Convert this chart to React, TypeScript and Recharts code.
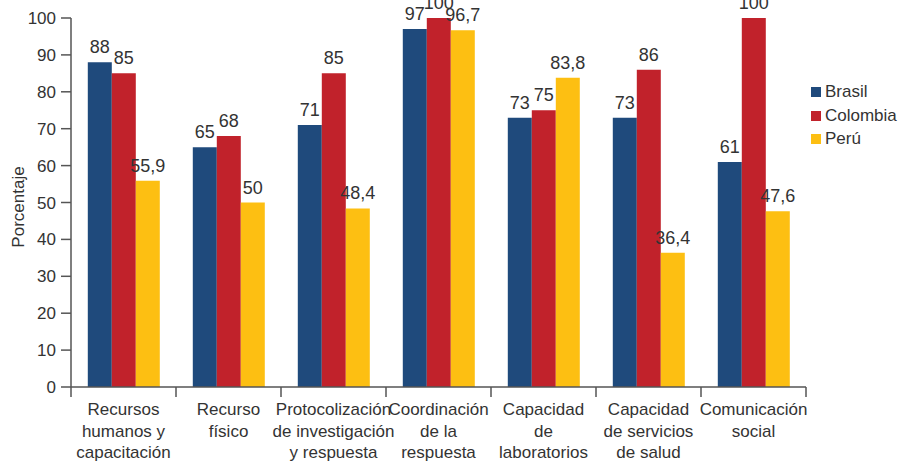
import React from "react"
import { BarChart, Bar, XAxis, YAxis, Legend, LabelList } from "recharts"

// Chart data
const categories = [
    "Recursos\nhumanos y\ncapacitación",
    "Recurso\nfísico",
    "Protocolización\nde investigación\ny respuesta",
    "Coordinación\nde la\nrespuesta",
    "Capacidad\nde\nlaboratorios",
    "Capacidad\nde servicios\nde salud",
    "Comunicación\nsocial",
]
const brasil = [88, 65, 71, 97, 73, 73, 61]
const colombia = [85, 68, 85, 100, 75, 86, 100]
const peru = [55.9, 50, 48.4, 96.7, 83.8, 36.4, 47.6]
const yTicks = [0, 10, 20, 30, 40, 50, 60, 70, 80, 90, 100]

const series = [
    { key: "brasil", name: "Brasil", color: "#1f4a7c" },
    { key: "colombia", name: "Colombia", color: "#c1222b" },
    { key: "peru", name: "Perú", color: "#fdbf12" },
]

const data = categories.map((name, i) => ({
    name,
    brasil: brasil[i],
    colombia: colombia[i],
    peru: peru[i],
}))

const WIDTH = 903
const HEIGHT = 461
const MARGIN = { top: 18, right: 97, bottom: 0, left: 0 }
const Y_AXIS_WIDTH = 71
const X_AXIS_HEIGHT = 74
const PLOT_BOTTOM = HEIGHT - MARGIN.bottom - X_AXIS_HEIGHT
const BAND = (WIDTH - MARGIN.left - MARGIN.right - Y_AXIS_WIDTH) / categories.length

const FONT = "'Liberation Sans', Arial, sans-serif"
const TEXT = "#333333"
const AXIS = "#555555"

const fmt = (v: any) => String(v).replace(".", ",")

// category labels, with tick marks on the band boundaries
const CategoryTick = (props: any) => {
    const { x, payload, index } = props
    const lines = String(payload.value).split("\n")
    const left = x - BAND / 2
    const right = x + BAND / 2
    return (
        <g>
            <line x1={left} y1={PLOT_BOTTOM} x2={left} y2={PLOT_BOTTOM + 10} stroke={AXIS} strokeWidth={1.5} />
            {index === categories.length - 1 && (
                <line x1={right} y1={PLOT_BOTTOM} x2={right} y2={PLOT_BOTTOM + 10} stroke={AXIS} strokeWidth={1.5} />
            )}
            <text x={x} y={PLOT_BOTTOM + 28} textAnchor="middle" fill={TEXT} fontSize={17} fontFamily={FONT}>
                {lines.map((l, i) => (
                    <tspan key={i} x={x} dy={i === 0 ? 0 : 21.5}>{l}</tspan>
                ))}
            </text>
        </g>
    )
}

const LegendContent = () => (
    <div style={{ fontFamily: FONT, fontSize: 17, color: TEXT }}>
        {series.map((s) => (
            <div key={s.key} style={{ lineHeight: "23.5px", whiteSpace: "nowrap" }}>
                <span style={{ display: "inline-block", width: 10, height: 10, background: s.color, marginRight: 4 }} />
                {s.name}
            </div>
        ))}
    </div>
)

const YLabel = () => (
    <text
        x={18}
        y={207}
        transform="rotate(-90, 18, 207)"
        textAnchor="middle"
        dominantBaseline="central"
        fill={TEXT}
        fontSize={17}
        fontFamily={FONT}
    >
        Porcentaje
    </text>
)

export default function App() {
    return (
        <div style={{ position: "absolute", left: 0, top: 0, width: WIDTH, height: HEIGHT, background: "#fff" }}>
            <BarChart
                width={WIDTH}
                height={HEIGHT}
                data={data}
                margin={MARGIN}
                barCategoryGap="16%"
                barGap={0}
            >
                <XAxis
                    dataKey="name"
                    height={X_AXIS_HEIGHT}
                    interval={0}
                    tickLine={false}
                    axisLine={{ stroke: AXIS, strokeWidth: 1.5 }}
                    tick={<CategoryTick />}
                />
                <YAxis
                    width={Y_AXIS_WIDTH}
                    domain={[0, 100]}
                    ticks={yTicks}
                    interval={0}
                    tickSize={10}
                    tickMargin={5}
                    axisLine={{ stroke: AXIS, strokeWidth: 1.5 }}
                    tickLine={{ stroke: AXIS, strokeWidth: 1.5 }}
                    tick={{ fill: TEXT, fontSize: 17, fontFamily: FONT }}
                    label={<YLabel />}
                />
                <Legend
                    layout="horizontal"
                    verticalAlign="middle"
                    align="center"
                    wrapperStyle={{ top: 80, left: 811, width: 92 }}
                    content={<LegendContent />}
                />
                {series.map((s) => (
                    <Bar key={s.key} dataKey={s.key} name={s.name} fill={s.color} isAnimationActive={false}>
                        <LabelList
                            dataKey={s.key}
                            position="top"
                            offset={9}
                            formatter={fmt}
                            fill={TEXT}
                            fontSize={18}
                            fontFamily={FONT}
                        />
                    </Bar>
                ))}
            </BarChart>
        </div>
    )
}
